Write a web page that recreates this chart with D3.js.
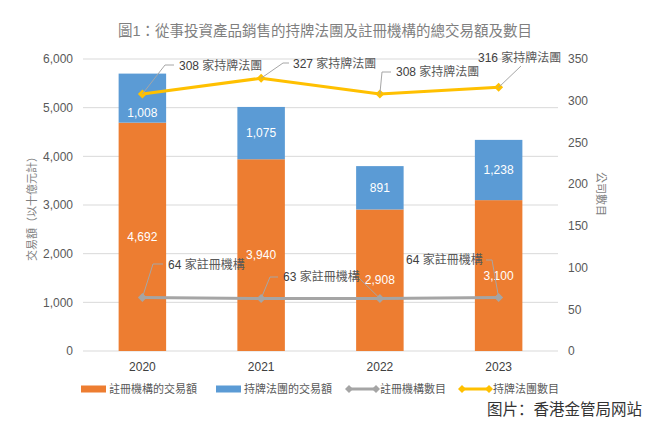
<!DOCTYPE html>
<html>
<head>
<meta charset="utf-8">
<script src="https://cdn.jsdelivr.net/npm/d3@7"></script>
<style>
  body { margin: 0; background: #fff; }
  svg text { font-family: "Liberation Sans", "Noto Sans CJK TC", sans-serif; }
</style>
</head>
<body>
<div id="chart"></div>
<script>
// values
var years = ['2020', '2021', '2022', '2023'];
var regAmount = [4692, 3940, 2908, 3100];      // 註冊機構的交易額
var licAmount = [1008, 1075, 891, 1238];       // 持牌法團的交易額
var regCount = [64, 63, 63, 64];               // 註冊機構數目
var licCount = [308, 327, 308, 316];           // 持牌法團數目
var leftTicks = [0, 1000, 2000, 3000, 4000, 5000, 6000];
var rightTicks = [0, 50, 100, 150, 200, 250, 300, 350];

var width = 649, height = 424;
var orange = '#ED7D31', blue = '#5B9BD5', grey = '#A5A5A5', yellow = '#FFC000';

var svg = d3.select('#chart').append('svg')
    .attr('width', width)
    .attr('height', height);

var x = d3.scaleBand().domain(years).range([83, 558]).paddingInner(0.6).paddingOuter(0.3);
var yL = d3.scaleLinear().domain([0, 6000]).range([351, 59]);
var yR = d3.scaleLinear().domain([0, 350]).range([351, 59]);

// title
svg.append('text')
    .attr('x', 325).attr('y', 36)
    .attr('text-anchor', 'middle')
    .attr('font-size', 14.5)
    .attr('fill', '#7f7f7f')
    .text('圖1：從事投資產品銷售的持牌法團及註冊機構的總交易額及數目');

// grid
svg.append('g').selectAll('line')
    .data(leftTicks)
    .enter().append('line')
    .attr('x1', 83).attr('x2', 558)
    .attr('y1', function(d) { return yL(d); })
    .attr('y2', function(d) { return yL(d); })
    .attr('stroke', '#d9d9d9')
    .attr('stroke-width', 1);

// left axis
var axL = svg.append('g')
    .attr('transform', 'translate(83,0)')
    .call(d3.axisLeft(yL).tickValues(leftTicks).tickSize(0).tickPadding(10).tickFormat(d3.format(',')));
axL.select('.domain').remove();
axL.selectAll('text').attr('font-size', 12).attr('fill', '#595959')
    .style('font-family', '"Liberation Sans", sans-serif');

// right axis
var axR = svg.append('g')
    .attr('transform', 'translate(558,0)')
    .call(d3.axisRight(yR).tickValues(rightTicks).tickSize(0).tickPadding(10));
axR.select('.domain').remove();
axR.selectAll('text').attr('font-size', 12).attr('fill', '#595959')
    .style('font-family', '"Liberation Sans", sans-serif');

// bottom axis
var axB = svg.append('g')
    .attr('transform', 'translate(0,351)')
    .call(d3.axisBottom(x).tickSize(0).tickPadding(11));
axB.select('.domain').remove();
axB.selectAll('text').attr('font-size', 12).attr('fill', '#404040')
    .style('font-family', '"Liberation Sans", sans-serif');

// axis titles
svg.append('text')
    .attr('transform', 'translate(36,206) rotate(-90)')
    .attr('text-anchor', 'middle')
    .attr('font-size', 11)
    .attr('fill', '#7f7f7f')
    .text('交易額（以十億元計）');

svg.append('text')
    .attr('transform', 'translate(597,194) rotate(90)')
    .attr('text-anchor', 'middle')
    .attr('font-size', 11)
    .attr('fill', '#7f7f7f')
    .text('公司數目');

// stacked bars
var bars = svg.append('g');
bars.selectAll('.reg')
    .data(years)
    .enter().append('rect')
    .attr('x', function(d) { return x(d); })
    .attr('width', x.bandwidth())
    .attr('y', function(d, i) { return yL(regAmount[i]); })
    .attr('height', function(d, i) { return yL(0) - yL(regAmount[i]); })
    .attr('fill', orange);

bars.selectAll('.lic')
    .data(years)
    .enter().append('rect')
    .attr('x', function(d) { return x(d); })
    .attr('width', x.bandwidth())
    .attr('y', function(d, i) { return yL(regAmount[i] + licAmount[i]); })
    .attr('height', function(d, i) { return yL(regAmount[i]) - yL(regAmount[i] + licAmount[i]); })
    .attr('fill', blue);

var fmt = d3.format(',');
var cx = function(d) { return x(d) + x.bandwidth() / 2; };

bars.selectAll('.regLbl')
    .data(years)
    .enter().append('text')
    .attr('x', cx)
    .attr('y', function(d, i) { return (yL(0) + yL(regAmount[i])) / 2 + 4; })
    .attr('text-anchor', 'middle')
    .attr('font-size', 12)
    .attr('fill', '#fff')
    .text(function(d, i) { return fmt(regAmount[i]); });

// the 2020 label sits lower in its segment in the original
var licShift = [15, 0, 0, 0];
bars.selectAll('.licLbl')
    .data(years)
    .enter().append('text')
    .attr('x', cx)
    .attr('y', function(d, i) { return (yL(regAmount[i]) + yL(regAmount[i] + licAmount[i])) / 2 + 4 + licShift[i]; })
    .attr('text-anchor', 'middle')
    .attr('font-size', 12)
    .attr('fill', '#fff')
    .text(function(d, i) { return fmt(licAmount[i]); });

// lines
function diamond(g, px, py, color, r) {
    g.append('path')
        .attr('d', 'M' + px + ',' + (py - r) + 'L' + (px + r) + ',' + py + 'L' + px + ',' + (py + r) + 'L' + (px - r) + ',' + py + 'Z')
        .attr('fill', color);
}

function drawLine(values, color) {
    var g = svg.append('g');
    var line = d3.line()
        .x(function(d, i) { return cx(years[i]); })
        .y(function(d) { return yR(d); });
    g.append('path')
        .datum(values)
        .attr('d', line)
        .attr('fill', 'none')
        .attr('stroke', color)
        .attr('stroke-width', 3)
        .attr('stroke-linejoin', 'round');
    values.forEach(function(v, i) { diamond(g, cx(years[i]), yR(v), color, 4.5); });
    return g;
}

drawLine(regCount, grey);
drawLine(licCount, yellow);

// data labels with leader lines
function callout(px, py, p, num, word) {
    var g = svg.append('g');
    var d = 'M' + px + ',' + py;
    p.pts.forEach(function(q) { d += 'L' + q[0] + ',' + q[1]; });
    g.append('path').attr('d', d).attr('fill', 'none').attr('stroke', '#a6a6a6').attr('stroke-width', 1);
    if (p.hide) return;
    var t = g.append('text')
        .attr('x', p.lx).attr('y', p.ly + 4.5)
        .attr('font-size', 12);
    t.append('tspan').attr('fill', '#404040').text(num + ' ');
    t.append('tspan').attr('fill', '#595959').text(word);
}

var licLabelPos = [
    { lx: 179, ly: 65, pts: [[165, 65], [174, 65]] },
    { lx: 293, ly: 63, pts: [[283, 63], [289, 63]] },
    { lx: 396, ly: 71, pts: [[382, 72], [391, 72]] },
    { lx: 478, ly: 57, pts: [[521, 66]] }
];
licCount.forEach(function(v, i) {
    callout(cx(years[i]), yR(v), licLabelPos[i], v, '家持牌法團');
});

// the 2022 label lies under the 2021 one in the original, only its leader shows
var regLabelPos = [
    { lx: 168, ly: 264, pts: [[153, 264], [163, 264]] },
    { lx: 283, ly: 276, pts: [[270, 277], [278, 277]] },
    { lx: 283, ly: 276, pts: [[359, 278]], hide: true },
    { lx: 406, ly: 259, pts: [[492, 260], [486, 260]] }
];
regCount.forEach(function(v, i) {
    callout(cx(years[i]), yR(v), regLabelPos[i], v, '家註冊機構');
});

// legend
var legend = [
    { name: '註冊機構的交易額', color: orange, type: 'rect', x: 81 },
    { name: '持牌法團的交易額', color: blue, type: 'rect', x: 216 },
    { name: '註冊機構數目', color: grey, type: 'line', x: 347 },
    { name: '持牌法團數目', color: yellow, type: 'line', x: 460 }
];
var lg = svg.append('g');
legend.forEach(function(l) {
    var ly = 389;
    if (l.type === 'rect') {
        lg.append('rect').attr('x', l.x).attr('y', ly - 3.5).attr('width', 25).attr('height', 7).attr('fill', l.color);
    } else {
        lg.append('line').attr('x1', l.x).attr('x2', l.x + 31).attr('y1', ly).attr('y2', ly)
            .attr('stroke', l.color).attr('stroke-width', 3);
        diamond(lg, l.x + 2, ly, l.color, 4);
        diamond(lg, l.x + 29, ly, l.color, 4);
    }
    lg.append('text')
        .attr('x', l.x + (l.type === 'rect' ? 28 : 33))
        .attr('y', ly + 4)
        .attr('font-size', 11)
        .attr('fill', '#595959')
        .text(l.name);
});

// source
svg.append('text')
    .attr('x', 642).attr('y', 415)
    .attr('text-anchor', 'end')
    .attr('font-size', 15.5)
    .attr('fill', '#333')
    .style('font-family', '"Noto Sans CJK SC", sans-serif')
    .text('图片：香港金管局网站');
</script>
</body>
</html>
